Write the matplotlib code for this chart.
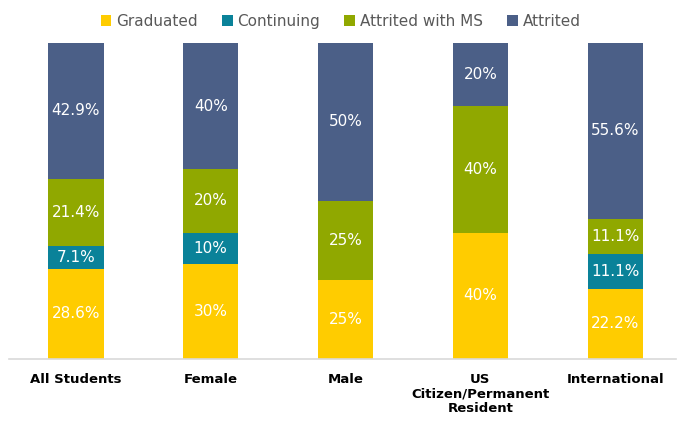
import numpy as np
import matplotlib.pyplot as plt

# ========================
# Data
# ========================
categories = ["All Students", "Female", "Male", "US\nCitizen/Permanent\nResident", "International"]
series_names = ["Graduated", "Continuing", "Attrited with MS", "Attrited"]
graduated = [28.6, 30, 25, 40, 22.2]
continuing = [7.1, 10, 0, 0, 11.1]
attrited_ms = [21.4, 20, 25, 40, 11.1]
attrited = [42.9, 40, 50, 20, 55.6]
colors = ["#FFCC00", "#0A8299", "#90A800", "#4B5F87"]

# ========================
# Figure setup
# ========================
fig = plt.figure(figsize=(6.81, 4.24), dpi=100)
ax = fig.add_axes([0.0125, 0.1533, 0.98, 0.7453])

x = np.arange(len(categories))
bottom = np.zeros(len(categories))
for name, vals, c in zip(series_names, [graduated, continuing, attrited_ms, attrited], colors):
    vals = np.array(vals, dtype=float)
    ax.bar(x, vals, width=0.41, bottom=bottom, color=c, label=name)
    for xi, b, v in zip(x, bottom, vals):
        if v > 0:
            ax.text(xi, b + v / 2, f"{v:g}%", ha="center", va="center",
                    color="white", fontsize=11)
    bottom += vals

ax.set_xlim(-0.5, 4.45)
ax.set_ylim(0, 100)
ax.set_yticks([])
ax.set_xticks(x)
ax.set_xticklabels(categories, fontsize=9.5, fontweight="bold", linespacing=1.15)
ax.tick_params(axis="x", length=0, pad=10)
for s in ["top", "right", "left"]:
    ax.spines[s].set_visible(False)
ax.spines["bottom"].set_color("#D9D9D9")
ax.spines["bottom"].set_linewidth(1.2)

leg = fig.legend(loc="upper center", bbox_to_anchor=(0.5, 1.0), ncol=4, frameon=False,
                 fontsize=11, handlelength=0.7, handleheight=0.7, handletextpad=0.3,
                 columnspacing=1.6)
for t in leg.get_texts():
    t.set_color("#595959")

fig.savefig("out.png", dpi=100)
